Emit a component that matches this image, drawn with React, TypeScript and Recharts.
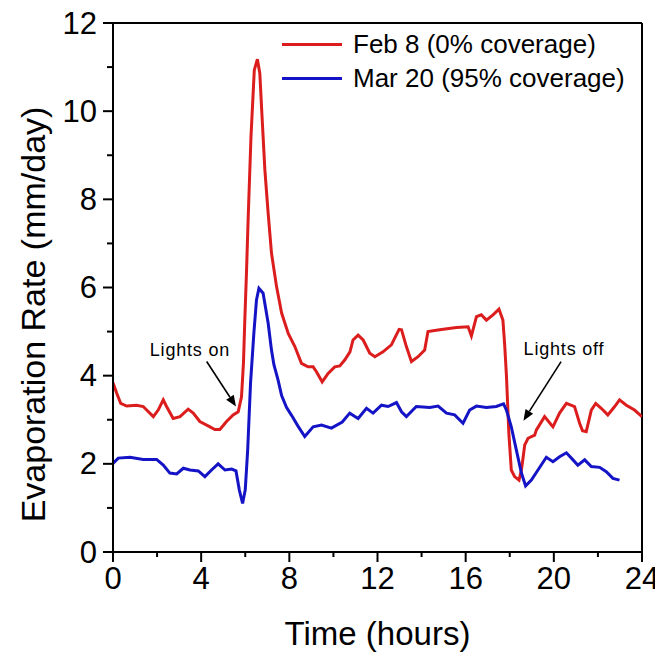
import React from 'react';
import {
  LineChart,
  Line,
  XAxis,
  YAxis,
  ReferenceLine,
  ReferenceDot,
  Legend,
} from 'recharts';

// Evaporation rate over a day, two measurement dates
const feb8Hours = [
  0.0, 0.17, 0.35, 0.62, 1.07, 1.37, 1.83, 2.05, 2.28, 2.43, 2.73, 3.04, 3.41, 3.64, 3.94,
  4.4, 4.62, 4.85, 5.15, 5.45, 5.68, 5.83, 5.92, 5.98, 6.06, 6.13, 6.26, 6.41, 6.55, 6.66,
  6.77, 6.89, 7.04, 7.19, 7.42, 7.65, 7.95, 8.25, 8.55, 8.85, 9.08, 9.23, 9.49, 9.76, 10.06,
  10.29, 10.52, 10.75, 10.89, 11.12, 11.35, 11.65, 11.88, 12.25, 12.63, 12.98, 13.09, 13.31,
  13.54, 13.84, 14.14, 14.29, 14.82, 15.58, 16.11, 16.26, 16.49, 16.71, 16.94, 17.24, 17.51,
  17.69, 17.77, 17.85, 17.96, 18.07, 18.22, 18.42, 18.53, 18.62, 18.68, 18.83, 19.13, 19.21,
  19.58, 19.89, 19.96, 20.26, 20.57, 20.94, 21.17, 21.3, 21.47, 21.7, 21.9, 22.15, 22.45,
  22.76, 22.98, 23.29, 23.66, 24.0,
];
const feb8Rate = [
  3.84, 3.6, 3.37, 3.31, 3.33, 3.3, 3.07, 3.22, 3.45, 3.3, 3.03, 3.07, 3.24, 3.15, 2.96,
  2.84, 2.78, 2.78, 2.96, 3.11, 3.18, 3.52, 4.3, 5.26, 6.4, 7.53, 9.42, 10.93, 11.18, 10.86,
  9.8, 8.67, 7.68, 6.78, 6.02, 5.42, 4.96, 4.66, 4.28, 4.2, 4.2, 4.09, 3.86, 4.05, 4.2,
  4.22, 4.36, 4.54, 4.81, 4.92, 4.81, 4.51, 4.43, 4.54, 4.7, 5.05, 5.04, 4.66,
  4.32, 4.43, 4.58, 5.0, 5.04, 5.09, 5.11, 4.9, 5.34, 5.38, 5.26, 5.38, 5.51,
  5.26, 4.7, 4.0, 2.69, 1.86, 1.71, 1.63, 1.86, 2.2, 2.43, 2.58, 2.65, 2.77,
  3.07, 2.88, 2.84, 3.15, 3.37, 3.3, 2.92, 2.75, 2.73, 3.22, 3.37, 3.26, 3.11,
  3.3, 3.45, 3.33, 3.22, 3.07,
];

const mar20Hours = [
  0.0, 0.24, 0.77, 1.37, 1.98, 2.28, 2.58, 2.89, 3.19, 3.49, 3.87, 4.17, 4.47, 4.77, 5.08,
  5.38, 5.58, 5.73, 5.88, 6.0, 6.11, 6.24, 6.39, 6.51, 6.62, 6.81, 7.04, 7.19, 7.3, 7.49,
  7.65, 7.87, 8.1, 8.4, 8.7, 9.08, 9.46, 9.91, 10.4, 10.74, 11.12, 11.5, 11.8, 12.18, 12.48,
  12.86, 13.09, 13.31, 13.76, 14.37, 14.75, 15.13, 15.5, 15.88, 16.18, 16.49, 16.94, 17.39,
  17.72, 17.85, 18.07, 18.3, 18.53, 18.72, 18.98, 19.28, 19.66, 19.96, 20.26, 20.57, 20.87,
  21.09, 21.4, 21.7, 22.08, 22.38, 22.68, 22.98,
];
const mar20Rate = [
  2.01, 2.13, 2.15, 2.1, 2.1, 1.97, 1.79, 1.77, 1.9, 1.86, 1.84, 1.71, 1.86, 2.0, 1.86,
  1.88, 1.84, 1.41, 1.1, 1.41, 2.31, 3.83, 4.96, 5.72, 5.98, 5.87, 5.19, 4.58, 4.25, 3.9,
  3.55, 3.28, 3.1, 2.85, 2.62, 2.84, 2.88, 2.81, 2.95, 3.15, 3.03, 3.26, 3.15, 3.33, 3.3,
  3.39, 3.18, 3.07, 3.3, 3.28, 3.31, 3.15, 3.11, 2.92, 3.22, 3.31, 3.28, 3.3,
  3.36, 3.22, 2.84, 2.31, 1.79, 1.5, 1.63, 1.86, 2.15, 2.05, 2.16, 2.25, 2.09,
  1.97, 2.09, 1.94, 1.92, 1.82, 1.67, 1.63,
];

const xTicks = [0, 2, 4, 6, 8, 10, 12, 14, 16, 18, 20, 22, 24];
const yTicks = [0, 1, 2, 3, 4, 5, 6, 7, 8, 9, 10, 11, 12];

const feb8 = feb8Hours.map((t, i) => ({ t, rate: feb8Rate[i] }));
const mar20 = mar20Hours.map((t, i) => ({ t, rate: mar20Rate[i] }));

const FONT = "'Liberation Sans', Arial, sans-serif";
const RED = '#dc1d1d';
const BLUE = '#1414c6';
const TICK_SIZE = 10;
const TICK_MARGIN = 5;

const YTick = (props: any) => {
  const { x, y, payload } = props;
  const v = payload.value as number;
  const major = v % 2 === 0;
  const ax = x + TICK_SIZE + TICK_MARGIN;
  return (
    <g>
      <line x1={ax} x2={ax - (major ? 10 : 6)} y1={y} y2={y} stroke="#000" strokeWidth={2} />
      {major && (
        <text
          x={ax - 16}
          y={y}
          textAnchor="end"
          dominantBaseline="central"
          fontSize={31}
          fontFamily={FONT}
          fill="#000"
        >
          {v}
        </text>
      )}
    </g>
  );
};

const XTick = (props: any) => {
  const { x, y, payload } = props;
  const v = payload.value as number;
  const major = v % 4 === 0;
  const ay = y - TICK_SIZE - TICK_MARGIN;
  return (
    <g>
      <line x1={x} x2={x} y1={ay} y2={ay + (major ? 10 : 5)} stroke="#000" strokeWidth={2} />
      {major && (
        <text
          x={x}
          y={ay + 26}
          textAnchor="middle"
          dominantBaseline="central"
          fontSize={31}
          fontFamily={FONT}
          fill="#000"
        >
          {v}
        </text>
      )}
    </g>
  );
};

const YTitle = (props: any) => {
  const { x, y, height } = props.viewBox;
  const cx = x + 33;
  const cy = y + height / 2 + 27;
  return (
    <text
      x={cx}
      y={cy}
      transform={`rotate(-90, ${cx}, ${cy})`}
      textAnchor="middle"
      dominantBaseline="central"
      fontSize={34}
      fontFamily={FONT}
      fill="#000"
    >
      Evaporation Rate (mm/day)
    </text>
  );
};

const XTitle = (props: any) => {
  const { x, y, width } = props.viewBox;
  return (
    <text
      x={x + width / 2}
      y={y + 81}
      textAnchor="middle"
      dominantBaseline="central"
      fontSize={33}
      fontFamily={FONT}
      fill="#000"
    >
      Time (hours)
    </text>
  );
};

const Arrow = (p: any) => {
  const { x1, y1, x2, y2 } = p;
  const ang = Math.atan2(y2 - y1, x2 - x1);
  const L = 11;
  const W = 4.5;
  const bx = x2 - L * Math.cos(ang);
  const by = y2 - L * Math.sin(ang);
  const pts = `${x2},${y2} ${bx + W * Math.sin(ang)},${by - W * Math.cos(ang)} ${
    bx - W * Math.sin(ang)
  },${by + W * Math.cos(ang)}`;
  return (
    <g>
      <line x1={x1} y1={y1} x2={bx} y2={by} stroke="#000" strokeWidth={1.6} />
      <polygon points={pts} fill="#000" />
    </g>
  );
};

const note = (text: string) => (p: any) => (
  <text
    x={p.cx}
    y={p.cy}
    textAnchor="middle"
    dominantBaseline="central"
    fontSize={18}
    letterSpacing={0.8}
    fontFamily={FONT}
    fill="#000"
  >
    {text}
  </text>
);

const LegendBox = (props: any) => {
  const { payload } = props;
  return (
    <div style={{ fontFamily: FONT, fontSize: 26, color: '#000' }}>
      {(payload || []).map((entry: any) => (
        <div
          key={entry.value}
          style={{ display: 'flex', alignItems: 'center', height: 34, whiteSpace: 'nowrap' }}
        >
          <span
            style={{
              display: 'inline-block',
              width: 60,
              height: 3,
              background: entry.color,
              marginRight: 11,
            }}
          />
          <span>{entry.value}</span>
        </div>
      ))}
    </div>
  );
};

export default function App() {
  return (
    <div style={{ margin: '-8px 0 0 -8px', width: 663, height: 655 }}>
      <LineChart width={663} height={655} margin={{ top: 23, right: 21, bottom: 0, left: 0 }}>
        <XAxis
          type="number"
          dataKey="t"
          domain={[0, 24]}
          ticks={xTicks}
          interval={0}
          allowDataOverflow
          height={103}
          tickSize={TICK_SIZE}
          tickMargin={TICK_MARGIN}
          tickLine={false}
          tick={<XTick />}
          axisLine={{ stroke: '#000', strokeWidth: 2 }}
          label={(p: any) => <XTitle {...p} />}
        />
        <YAxis
          type="number"
          domain={[0, 12]}
          ticks={yTicks}
          interval={0}
          allowDataOverflow
          width={113}
          tickSize={TICK_SIZE}
          tickMargin={TICK_MARGIN}
          tickLine={false}
          tick={<YTick />}
          axisLine={{ stroke: '#000', strokeWidth: 2 }}
          label={(p: any) => <YTitle {...p} />}
        />
        <ReferenceLine y={12} stroke="#000" strokeWidth={2} />
        <ReferenceLine x={24} stroke="#000" strokeWidth={2} />

        <Line
          data={feb8}
          dataKey="rate"
          name="Feb 8 (0% coverage)"
          type="linear"
          stroke={RED}
          strokeWidth={3}
          dot={false}
          activeDot={false}
          isAnimationActive={false}
        />
        <Line
          data={mar20}
          dataKey="rate"
          name="Mar 20 (95% coverage)"
          type="linear"
          stroke={BLUE}
          strokeWidth={3}
          dot={false}
          activeDot={false}
          isAnimationActive={false}
        />

        <ReferenceLine
          segment={[
            { x: 4.25, y: 4.32 },
            { x: 5.58, y: 3.3 },
          ]}
          shape={Arrow}
        />
        <ReferenceLine
          segment={[
            { x: 20.33, y: 4.32 },
            { x: 18.62, y: 2.98 },
          ]}
          shape={Arrow}
        />
        <ReferenceDot x={3.49} y={4.59} r={0} shape={note('Lights on')} />
        <ReferenceDot x={20.46} y={4.61} r={0} shape={note('Lights off')} />

        <Legend
          layout="horizontal"
          verticalAlign="middle"
          align="center"
          content={LegendBox}
          wrapperStyle={{ top: 27, left: 282, width: 'auto' }}
        />
      </LineChart>
    </div>
  );
}
